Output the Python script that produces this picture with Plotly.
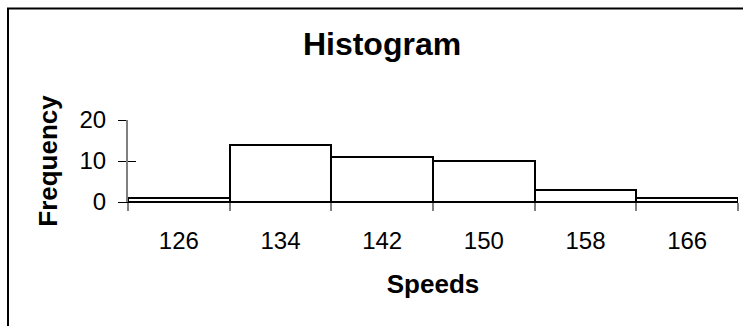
import plotly.graph_objects as go

# Histogram of speeds: bins of width 8, labelled by their centres
bin_centers = [126, 134, 142, 150, 158, 166]
frequencies = [1, 14, 11, 10, 3, 1]
bin_width = 8
bin_edges = [122, 130, 138, 146, 154, 162, 170]
y_ticks = [0, 10, 20]

FONT = "Liberation Sans, Arial, sans-serif"
W, H = 743, 326
L, R, T, B = 128, 5, 120, 124
pw, ph = W - L - R, H - T - B

fig = go.Figure()
fig.add_trace(go.Bar(
    x=bin_centers, y=frequencies, width=bin_width,
    marker=dict(color="white", line=dict(color="black", width=2)),
    showlegend=False, hoverinfo="x+y",
))

# outer frame of the chart area (partially outside the page)
def px_to_paper_x(px):
    return (px - L) / pw

def px_to_paper_y(py):
    return (H - B - py) / ph

fig.add_shape(type="rect", xref="paper", yref="paper",
              x0=px_to_paper_x(8), x1=px_to_paper_x(780),
              y0=px_to_paper_y(360), y1=px_to_paper_y(8.5),
              line=dict(color="black", width=2), fillcolor="rgba(0,0,0,0)",
              layer="below")

fig.update_layout(
    width=W, height=H,
    margin=dict(l=L, r=R, t=T, b=B, pad=0),
    paper_bgcolor="white", plot_bgcolor="white",
    font=dict(family=FONT, color="black", size=24),
    bargap=0,
    title=dict(text="<b>Histogram</b>", font=dict(size=32, family=FONT),
               x=382 / W, xanchor="center", xref="container",
               y=1 - 44 / H, yanchor="middle", yref="container"),
    xaxis=dict(
        range=[bin_edges[0], bin_edges[-1]],
        tickvals=bin_centers, ticktext=[str(v) for v in bin_centers],
        ticks="outside", ticklen=17, tickcolor="rgba(0,0,0,0)",
        showgrid=False, zeroline=False,
        showline=True, linecolor="black", linewidth=1,
        tickfont=dict(size=24),
        title=dict(text="<b>Speeds</b>", font=dict(size=26), standoff=22),
    ),
    xaxis2=dict(
        overlaying="x", range=[bin_edges[0], bin_edges[-1]],
        tickvals=bin_edges, showticklabels=False,
        ticks="outside", ticklen=8, tickcolor="#808080", tickwidth=2,
        showgrid=False, zeroline=False, showline=False, side="bottom",
    ),
    yaxis=dict(
        range=[0, 20], tickvals=y_ticks,
        ticks="outside", ticklen=8, tickcolor="black", tickwidth=1,
        ticklabelstandoff=7,
        showgrid=False, zeroline=False,
        showline=True, linecolor="#808080", linewidth=2,
        tickfont=dict(size=24),
        title=dict(text="<b>Frequency</b>", font=dict(size=26), standoff=14),
    ),
    yaxis2=dict(
        overlaying="y", range=[0, 20], tickvals=y_ticks,
        showticklabels=False, ticks="inside", ticklen=8,
        tickcolor="black", tickwidth=1,
        showgrid=False, zeroline=False, showline=False, side="left",
    ),
)

# invisible trace to activate the overlay axes
fig.add_trace(go.Scatter(x=[bin_edges[0]], y=[0], xaxis="x2", yaxis="y2",
                         mode="markers", marker=dict(opacity=0),
                         showlegend=False, hoverinfo="skip"))

fig.write_html("out.html")
